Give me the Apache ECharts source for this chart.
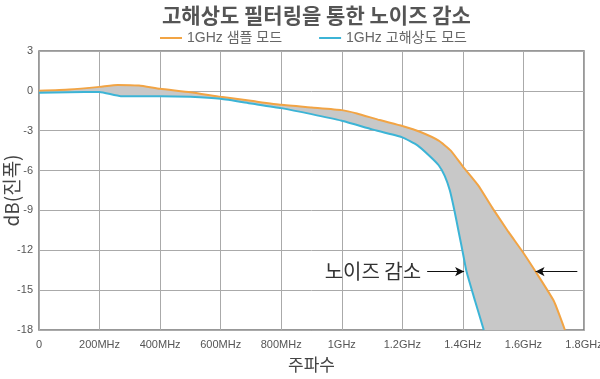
<!DOCTYPE html>
<html>
<head>
<meta charset="utf-8">
<script src="https://cdn.jsdelivr.net/npm/echarts@6/dist/echarts.min.js"></script>
<style>html,body{margin:0;padding:0;background:#fff}#c{width:600px;height:379px}</style>
</head>
<body>
<div id="c"></div>
<script>
const xTicks = [0, 200, 400, 600, 800, 1000, 1200, 1400, 1600, 1800];
const xTickLabels = ['0', '200MHz', '400MHz', '600MHz', '800MHz', '1GHz', '1.2GHz', '1.4GHz', '1.6GHz', '1.8GHz'];
const yTicks = [3, 0, -3, -6, -9, -12, -15, -18];

const sampleMode = [
  [0, 0], [100, 0.1], [200, 0.3], [260, 0.45], [330, 0.4], [400, 0.15], [500, -0.1],
  [600, -0.45], [700, -0.75], [800, -1.05], [900, -1.25], [1000, -1.45], [1050, -1.7],
  [1125, -2.2], [1200, -2.65], [1260, -3.1], [1320, -3.75], [1360, -4.5], [1400, -5.7],
  [1450, -7.1], [1500, -8.9], [1550, -10.6], [1600, -12.2], [1640, -13.6], [1700, -15.8], [1737, -18]
];
const hiresMode = [
  [0, -0.15], [100, -0.1], [200, -0.08], [270, -0.4], [400, -0.4], [500, -0.45],
  [600, -0.6], [700, -0.95], [800, -1.3], [900, -1.75], [1000, -2.25], [1100, -2.9],
  [1200, -3.5], [1250, -4.1], [1290, -4.9], [1320, -5.6], [1340, -6.4], [1357, -7.5],
  [1372, -9.0], [1386, -10.6], [1400, -12.2], [1412, -13.6], [1440, -15.8], [1469, -18]
];
const annotText = '노이즈 감소';
const annotY = -13.6;
const arrowLeft = [1282, 1404];
const arrowRight = [1778, 1640];

const latin = "'Liberation Sans Narrow', 'Liberation Sans', Arial, 'Noto Sans CJK KR', sans-serif";
const kor = "'Noto Sans CJK KR', 'Liberation Sans', sans-serif";

const chart = echarts.init(document.getElementById('c'));
chart.setOption({
  animation: false,
  title: {
    text: '고해상도 필터링을 통한 노이즈 감소',
    left: 157, top: 0,
    textStyle: { fontFamily: kor, fontSize: 21, fontWeight: 'bold', color: '#555' }
  },
  legend: {
    data: ['1GHz 샘플 모드', '1GHz 고해상도 모드'],
    top: 26, left: 155,
    icon: 'rect',
    itemWidth: 22, itemHeight: 2, itemGap: 37,
    textStyle: { fontFamily: latin, fontSize: 14, color: '#666' }
  },
  grid: {
    left: 39, right: 16, top: 51, bottom: 49,
    outerBoundsMode: 'none',
    containLabel: false,
    show: true, borderColor: '#777', borderWidth: 1.5
  },
  xAxis: {
    type: 'value', min: 0, max: 1800, interval: 200,
    name: '주파수', nameLocation: 'middle', nameGap: 26,
    nameMoveOverlap: false,
    nameTextStyle: { fontFamily: kor, fontSize: 17, color: '#444' },
    axisLine: { show: false },
    axisTick: { show: false },
    axisLabel: {
      margin: 9, fontFamily: latin, fontSize: 11, color: '#555',
      formatter: v => xTickLabels[xTicks.indexOf(v)]
    },
    splitLine: { show: true, lineStyle: { color: '#aaa', width: 1 } }
  },
  yAxis: {
    type: 'value', min: -18, max: 3, interval: 3,
    name: 'dB(진폭)', nameLocation: 'middle', nameGap: 18,
    nameMoveOverlap: false,
    nameTextStyle: { fontFamily: kor, fontSize: 19, color: '#444' },
    axisLine: { show: false },
    axisTick: { show: false },
    axisLabel: {
      margin: 6, fontFamily: latin, fontSize: 11, color: '#555',
      formatter: v => yTicks.includes(v) ? String(v) : ''
    },
    splitLine: { show: true, lineStyle: { color: '#aaa', width: 1 } }
  },
  series: [
    {
      type: 'custom',
      name: 'fill',
      silent: true,
      clip: true,
      z: 1,
      data: [[0, 0]],
      renderItem: function (params, api) {
        const pts = sampleMode.map(p => api.coord(p))
          .concat(hiresMode.slice().reverse().map(p => api.coord(p)));
        return {
          type: 'polygon',
          shape: { points: pts, smooth: 0 },
          style: { fill: '#c8c8c8', stroke: null }
        };
      }
    },
    {
      type: 'line',
      name: '1GHz 샘플 모드',
      data: sampleMode,
      symbol: 'none',
      smooth: 0.15,
      z: 3,
      lineStyle: { color: '#f2a444', width: 2 },
      itemStyle: { color: '#f2a444' }
    },
    {
      type: 'line',
      name: '1GHz 고해상도 모드',
      data: hiresMode,
      symbol: 'none',
      smooth: 0.15,
      z: 4,
      lineStyle: { color: '#3cb4d6', width: 2 },
      itemStyle: { color: '#3cb4d6' },
      markLine: {
        silent: true,
        symbol: ['none', 'arrow'],
        symbolSize: [7, 9],
        lineStyle: { color: '#111', width: 1, type: 'solid' },
        label: { show: false },
        data: [
          [{ coord: [arrowLeft[0], annotY] }, { coord: [arrowLeft[1], annotY] }],
          [{ coord: [arrowRight[0], annotY] }, { coord: [arrowRight[1], annotY] }]
        ]
      },
      markPoint: {
        silent: true,
        symbol: 'circle', symbolSize: 0,
        label: {
          show: true, position: 'left', distance: 6,
          formatter: annotText,
          fontFamily: kor, fontSize: 20, color: '#333'
        },
        data: [{ coord: [arrowLeft[0], annotY] }]
      }
    }
  ]
});
</script>
</body>
</html>
